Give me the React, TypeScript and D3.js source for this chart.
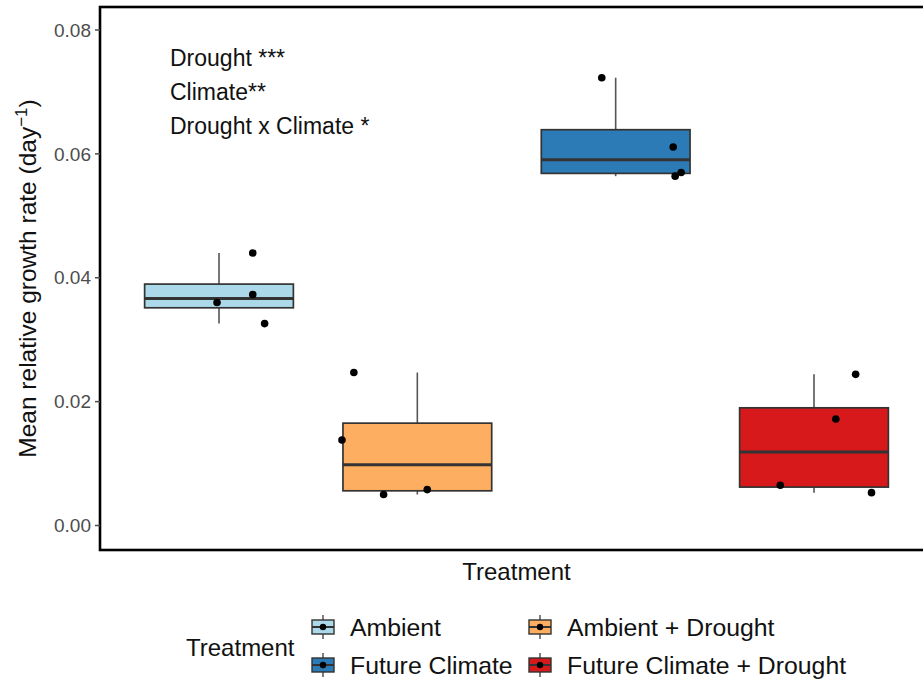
import { useEffect, useRef } from "react";
import * as d3 from "d3";

const treatments = ["Ambient", "Ambient + Drought", "Future Climate", "Future Climate + Drought"];
const fills = ["#abd9e9", "#fdae61", "#2c7bb6", "#d7191c"];

// growth rate of each replicate, per treatment
const ambient = [0.044, 0.0373, 0.036, 0.0326];
const ambientDrought = [0.0247, 0.0138, 0.005, 0.0058];
const futureClimate = [0.0723, 0.0611, 0.0564, 0.057];
const futureDrought = [0.0244, 0.0172, 0.0065, 0.0053];

// horizontal jitter of the points (fraction of category step)
const jitterAmbient = [0.17, 0.17, -0.01, 0.23];
const jitterAmbientDrought = [-0.32, -0.38, -0.17, 0.05];
const jitterFuture = [-0.07, 0.29, 0.3, 0.33];
const jitterFutureDrought = [0.21, 0.11, -0.17, 0.29];

const yTicks = [0, 0.02, 0.04, 0.06, 0.08];
const annotations = ["Drought ***", "Climate**", "Drought x Climate *"];

const App = () => {
  const ref = useRef<SVGSVGElement>(null);

  useEffect(() => {
    const width = 923;
    const height = 684;
    const left = 100;
    const right = 933;
    const top = 7;
    const bottom = 550;
    const font = "'Liberation Sans', Arial, Helvetica, sans-serif";

    const svg = d3.select(ref.current).attr("width", width).attr("height", height);
    svg.selectAll("*").remove();

    const groups = [ambient, ambientDrought, futureClimate, futureDrought];
    const jitters = [jitterAmbient, jitterAmbientDrought, jitterFuture, jitterFutureDrought];

    const x = d3.scalePoint<string>().domain(treatments).range([left, right]).padding(0.6);
    const y = d3.scaleLinear().domain([0, 0.08]).range([525.5, 30]);
    const step = x.step();
    const boxW = step * 0.75;

    const color = d3.scaleOrdinal<string, string>().domain(treatments).range(fills);

    const g = svg.append("g");

    // boxes
    treatments.forEach((t, i) => {
      const vals = groups[i].slice().sort(d3.ascending);
      const q1 = d3.quantile(vals, 0.25)!;
      const med = d3.quantile(vals, 0.5)!;
      const q3 = d3.quantile(vals, 0.75)!;
      const iqr = q3 - q1;
      const lo = d3.min(vals.filter((v) => v >= q1 - 1.5 * iqr))!;
      const hi = d3.max(vals.filter((v) => v <= q3 + 1.5 * iqr))!;
      const cx = x(t)!;

      g.append("line")
        .attr("x1", cx).attr("x2", cx)
        .attr("y1", y(hi)).attr("y2", y(q3))
        .attr("stroke", "#555").attr("stroke-width", 1.6);
      g.append("line")
        .attr("x1", cx).attr("x2", cx)
        .attr("y1", y(q1)).attr("y2", y(lo))
        .attr("stroke", "#555").attr("stroke-width", 1.6);
      g.append("rect")
        .attr("x", cx - boxW / 2).attr("width", boxW)
        .attr("y", y(q3)).attr("height", y(q1) - y(q3))
        .attr("fill", color(t)).attr("stroke", "#333").attr("stroke-width", 1.7);
      g.append("line")
        .attr("x1", cx - boxW / 2).attr("x2", cx + boxW / 2)
        .attr("y1", y(med)).attr("y2", y(med))
        .attr("stroke", "#333").attr("stroke-width", 3);
    });

    // points
    treatments.forEach((t, i) => {
      g.selectAll(null)
        .data(groups[i])
        .enter()
        .append("circle")
        .attr("cx", (d, j) => x(t)! + jitters[i][j] * step)
        .attr("cy", (d) => y(d))
        .attr("r", 3.8)
        .attr("fill", "#000");
    });

    // panel border
    svg.append("rect")
      .attr("x", left).attr("y", top)
      .attr("width", right - left).attr("height", bottom - top)
      .attr("fill", "none").attr("stroke", "#000").attr("stroke-width", 2.6);

    // y axis
    const axis = svg.append("g");
    yTicks.forEach((v) => {
      axis.append("line")
        .attr("x1", left - 5).attr("x2", left)
        .attr("y1", y(v)).attr("y2", y(v))
        .attr("stroke", "#4d4d4d").attr("stroke-width", 1.5);
      axis.append("text")
        .attr("x", left - 9).attr("y", y(v))
        .attr("dy", "0.35em")
        .attr("text-anchor", "end")
        .style("font-family", font).style("font-size", "19px")
        .style("fill", "#4d4d4d")
        .text(d3.format(".2f")(v));
    });

    // axis titles
    const yt = svg.append("text")
      .attr("transform", `translate(36, ${(top + bottom) / 2}) rotate(-90)`)
      .attr("text-anchor", "middle")
      .style("font-family", font).style("font-size", "24.5px").style("fill", "#111");
    yt.append("tspan").text("Mean relative growth rate (day");
    yt.append("tspan").attr("dy", -9).style("font-size", "17px").text("\u22121");
    yt.append("tspan").attr("dy", 9).text(")");

    svg.append("text")
      .attr("x", (left + right) / 2).attr("y", 580)
      .attr("text-anchor", "middle")
      .style("font-family", font).style("font-size", "24px").style("fill", "#111")
      .text("Treatment");

    // annotations
    annotations.forEach((a, i) => {
      svg.append("text")
        .attr("x", 170).attr("y", 66 + i * 34)
        .style("font-family", font).style("font-size", "23px").style("fill", "#111")
        .text(a);
    });

    // legend
    const legend = svg.append("g");
    legend.append("text")
      .attr("x", 186).attr("y", 656)
      .style("font-family", font).style("font-size", "24px").style("fill", "#111")
      .text("Treatment");

    const legendOrder = ["Ambient", "Future Climate", "Ambient + Drought", "Future Climate + Drought"];
    legendOrder.forEach((t, i) => {
      const col = Math.floor(i / 2);
      const row = i % 2;
      const kx = 323 + col * 217;
      const ky = 627 + row * 38;
      const k = legend.append("g").attr("transform", `translate(${kx}, ${ky})`);
      k.append("line").attr("x1", 0).attr("x2", 0).attr("y1", -12).attr("y2", 12)
        .attr("stroke", "#555").attr("stroke-width", 1.5);
      k.append("rect").attr("x", -11).attr("y", -7).attr("width", 22).attr("height", 14)
        .attr("fill", color(t)).attr("stroke", "#333").attr("stroke-width", 1.4);
      k.append("line").attr("x1", -11).attr("x2", 11).attr("y1", 0).attr("y2", 0)
        .attr("stroke", "#333").attr("stroke-width", 2);
      k.append("circle").attr("r", 3.2).attr("fill", "#000");
      legend.append("text")
        .attr("x", kx + 27).attr("y", ky).attr("dy", "0.35em")
        .style("font-family", font).style("font-size", "24.8px").style("fill", "#111")
        .text(t);
    });
  }, []);

  return <svg ref={ref} style={{ position: "absolute", left: 0, top: 0 }}></svg>;
};

export default App;
